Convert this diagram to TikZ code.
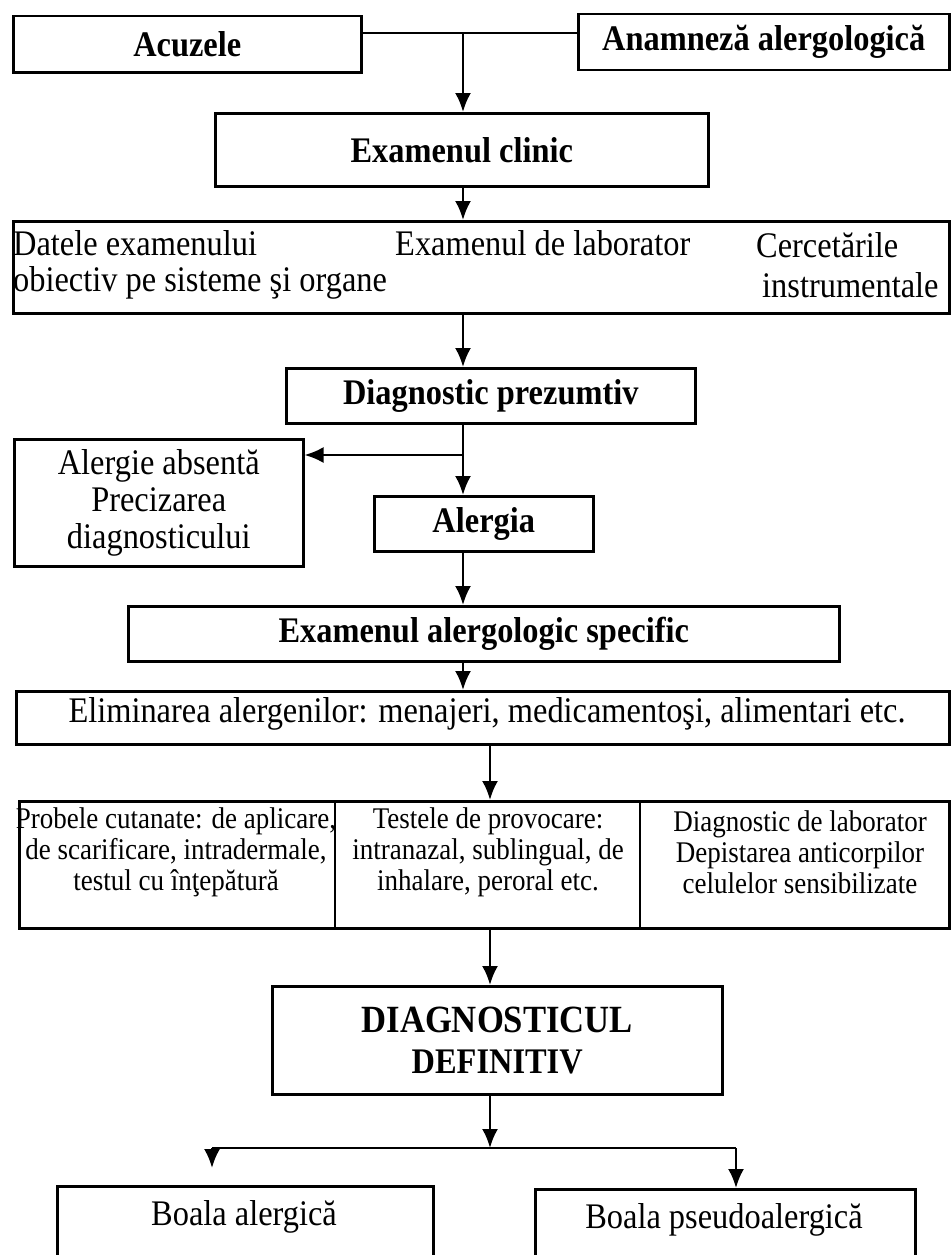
\documentclass[tikz,border=0pt]{standalone}
\usepackage{fontspec}
\setmainfont[FakeStretch=0.9]{Liberation Serif}
\usetikzlibrary{arrows.meta}
% font sizes used in the chart
\newcommand{\txtbig}{\fontsize{36}{40}\selectfont}
\newcommand{\txtcol}{\fontsize{30}{31}\selectfont}
\begin{document}
\begin{tikzpicture}[x=1pt,y=-1pt,
  ln/.style={line width=2.5pt},
  arr/.style={line width=2.5pt,-{Latex[length=19pt,width=16pt]}},
  box/.style={draw,line width=2.5pt,inner sep=0pt,anchor=north west,align=center,font=\txtbig},
  hd/.style={font=\txtbig\bfseries},
  tx/.style={inner sep=0pt,font=\txtbig},
  col/.style={inner sep=0pt,align=center,font=\txtcol}]
\clip (0,0) rectangle (952,1255);
\fill[white] (0,0) rectangle (952,1255);

% top row
\node[box,hd,minimum width=348,minimum height=56] (acz) at (12,15) {Acuzele};
\node[box,hd,minimum width=371,minimum height=56] (anm) at (577,13) {Anamneză alergologică};
\node[box,hd,minimum width=493,minimum height=73] (ecl) at (214,112) {Examenul clinic};

% wide box with three groups of data
\node[box,minimum width=936,minimum height=92] (big) at (12,220) {};
\node[tx,anchor=west] (t1) at (13,243) {Datele examenului};
\node[tx,anchor=west] (t2) at (13,283) {obiectiv pe sisteme şi organe};
\node[tx,anchor=west] (t3) at (395,243) {Examenul de laborator};
\node[tx,anchor=west] (t4) at (756,245) {Cercetările};
\node[tx,anchor=west] (t5) at (762,285) {instrumentale};

\node[box,hd,minimum width=409,minimum height=55] (dp) at (285,367) {Diagnostic prezumtiv};
\node[box,minimum width=289,minimum height=127,font=\fontsize{36}{37}\selectfont] (aa) at (13,438) {Alergie absentă\\Precizarea\\diagnosticului};
\node[box,hd,minimum width=219,minimum height=55] (alg) at (373,495) {Alergia};
\node[box,hd,minimum width=711,minimum height=55] (eas) at (127,605) {Examenul alergologic specific};
\node[box,minimum width=933,minimum height=53] (elim) at (15,690) {};
\node[tx] (elt) at (487,714) {Eliminarea alergenilor: menajeri, medicamentoşi, alimentari etc.};

% three-column box of tests
\node[box,minimum width=930,minimum height=127] (three) at (18,800) {};
\coordinate (d1) at (335,0);
\coordinate (d2) at (640,0);
\draw[ln] (three.north -| d1) -- (three.south -| d1);
\draw[ln] (three.north -| d2) -- (three.south -| d2);
\node[col] (k1) at (176,852) {Probele cutanate: de aplicare,\\de scarificare, intradermale,\\testul cu înţepătură};
\node[col] (k2) at (488,852) {Testele de provocare:\\intranazal, sublingual, de\\inhalare, peroral etc.};
\node[col] (k3) at (800,852) {Diagnostic de laborator\\Depistarea anticorpilor\\celulelor sensibilizate};

\node[box,minimum width=450,minimum height=108,font=\bfseries\fontsize{38.5}{41}\selectfont] (dd) at (271,985)
  {DIAGNOSTICUL\\{\fontsize{36}{41}\selectfont DEFINITIV}};

% outcome boxes (run past the lower edge)
\node[box,minimum width=376,minimum height=100] (bl) at (56,1185) {};
\node[tx] (blt) at (244,1217) {Boala alergică};
\node[box,minimum width=380,minimum height=100] (bp) at (534,1188) {};
\node[tx] (bpt) at (724,1220) {Boala pseudoalergică};

% connectors
\coordinate (c1) at (463,33);
\draw[ln] (acz.east |- c1) -- (anm.west |- c1);
\draw[arr] (c1) -- (ecl.north -| c1);
\draw[arr] (ecl.south -| c1) -- (big.north -| c1);
\draw[arr] (big.south -| c1) -- (dp.north -| c1);
\coordinate (c2) at (463,455);
\draw[ln] (dp.south -| c1) -- (c2);
\draw[arr] (c2) -- (alg.north -| c1);
\draw[arr] (c2) -- (aa.east |- c2);
\draw[arr] (alg.south -| c1) -- (eas.north -| c1);
\draw[arr] (eas.south -| c1) -- (elim.north -| c1);
\coordinate (c3) at (490,0);
\draw[arr] (elim.south -| c3) -- (three.north -| c3);
\draw[arr] (three.south -| c3) -- (dd.north -| c3);
\coordinate (c4) at (490,1148);
\draw[arr] (dd.south -| c4) -- (c4);
\coordinate (c5) at (212,1148);
\coordinate (c6) at (736,1148);
\coordinate (c7) at (212,1168);
\draw[ln] (c5) -- (c6);
\draw[arr] (c5) -- (c7);
\draw[arr] (c6) -- (bp.north -| c6);
\end{tikzpicture}
\end{document}
